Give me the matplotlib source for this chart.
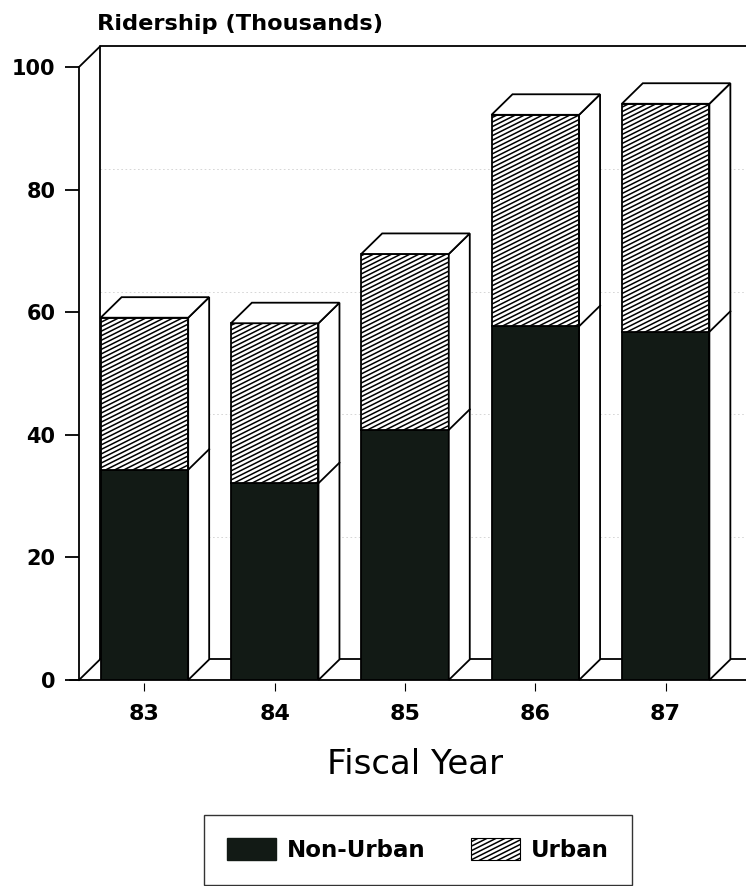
import numpy as np
import matplotlib
matplotlib.use("Agg")
import matplotlib.pyplot as plt
import matplotlib.hatch as mhatch
from matplotlib.path import Path
from matplotlib.patches import Rectangle, Polygon, Patch

years = ["83", "84", "85", "86", "87"]
non_urban = [34.3, 32.1, 40.8, 57.7, 56.8]
urban = [24.8, 26.1, 28.7, 34.5, 37.2]
yticks = [0, 20, 40, 60, 80, 100]

dark = "#121a15"
lw = 1.3


# the old plotter hatch is shallower and denser than matplotlib's "/"
class ShallowHatch(mhatch.HatchPatternBase):
    def __init__(self, hatch, density):
        self.n = 22 if "/" in hatch else 0
        self.num_vertices = 2 * (self.n + self.n // 2 + 1)

    def set_vertices_and_codes(self, vertices, codes):
        rows = []
        for i in range(-self.n // 2 - 1, self.n):
            c = i / self.n
            rows.append([(-0.1, c - 0.05), (1.1, c + 0.55)])
        vertices[:] = np.array(rows).reshape(-1, 2)
        codes[0::2] = Path.MOVETO
        codes[1::2] = Path.LINETO


mhatch._hatch_types = [ShallowHatch if h is mhatch.NorthEastHatch else h for h in mhatch._hatch_types]
plt.rcParams["hatch.linewidth"] = 1.1

fig = plt.figure(figsize=(7.46, 8.86), dpi=100)
ax = fig.add_axes([79 / 746, 206 / 886, 667 / 746, 613 / 886])
x0, x1 = -0.502, 4.617
ax.set_xlim(x0, x1)
ax.set_ylim(0, 100)

# depth of the fake 3d look (data units)
dx, dy = 0.161, 3.35
w = 0.672

# back wall + floor
ax.plot([x0 + dx, x0 + dx, x1], [dy, 100 + dy, 100 + dy], color="k", lw=lw, clip_on=False)
ax.plot([x0, x0 + dx], [100, 100 + dy], color="k", lw=lw, clip_on=False)
ax.plot([x0, x0 + dx], [0, dy], color="k", lw=lw, clip_on=False)
ax.plot([x0 + dx, x1], [dy, dy], color="k", lw=lw, clip_on=False)
ax.plot([x0 - 0.07, x1], [0, 0], color="k", lw=lw, clip_on=False)
for t in yticks[1:-1]:
    ax.plot([x0 + dx, x1], [t + dy, t + dy], color="#d0d0d0", lw=0.6, ls=(0, (2, 3)), zorder=1)

for i, (nu, ur) in enumerate(zip(non_urban, urban)):
    L = i - w / 2
    R = i + w / 2
    tot = nu + ur
    ax.add_patch(Rectangle((L, 0), w, nu, facecolor=dark, edgecolor="k", lw=lw, zorder=3))
    ax.add_patch(Rectangle((L, nu), w, ur, facecolor="white", edgecolor="k", hatch="/", lw=lw, zorder=3))
    ax.add_patch(Polygon([(R, 0), (R + dx, dy), (R + dx, tot + dy), (R, tot)],
                         facecolor="white", edgecolor="k", lw=lw, zorder=3, clip_on=False))
    ax.add_patch(Polygon([(L, tot), (L + dx, tot + dy), (R + dx, tot + dy), (R, tot)],
                         facecolor="white", edgecolor="k", lw=lw, zorder=3, clip_on=False))
    ax.plot([R, R + dx], [nu, nu + dy], color="k", lw=lw, zorder=4)

for s in ["top", "right", "bottom"]:
    ax.spines[s].set_visible(False)
ax.spines["left"].set_linewidth(lw)
ax.spines["bottom"].set_position(("outward", 2))

ax.set_yticks(yticks)
ax.set_yticklabels([str(t) for t in yticks], fontweight="bold", fontsize=15)
ax.tick_params(axis="y", direction="out", length=10, width=lw, pad=7)
ax.set_xticks(range(len(years)))
ax.set_xticklabels(years, fontweight="bold", fontsize=16)
ax.tick_params(axis="x", direction="out", length=5.5, width=0.8, pad=10)

ax.set_xlabel("Fiscal Year", fontsize=24.5)
ax.xaxis.set_label_coords((415 - 79) / 667, -(764 - 680) / 613)
ax.xaxis.label.set_va("center")

fig.text(97 / 746, 1 - 24 / 886, "Ridership (Thousands)", fontsize=16.2, fontweight="bold",
         ha="left", va="center")

handles = [Patch(facecolor=dark, edgecolor=dark), Patch(facecolor="white", edgecolor="k", hatch="/", lw=0.8)]
leg = fig.legend(handles, ["Non-Urban", "Urban"], ncol=2, loc="center",
                 bbox_to_anchor=(418 / 746, 1 - 850 / 886), frameon=True, fancybox=False,
                 edgecolor="k", prop={"size": 16.5, "weight": "bold"},
                 handlelength=2.14, handleheight=1.1, handletextpad=0.48, columnspacing=2.0,
                 borderpad=1.0)
leg.get_frame().set_linewidth(1.0)

fig.savefig("out.png", dpi=100)
